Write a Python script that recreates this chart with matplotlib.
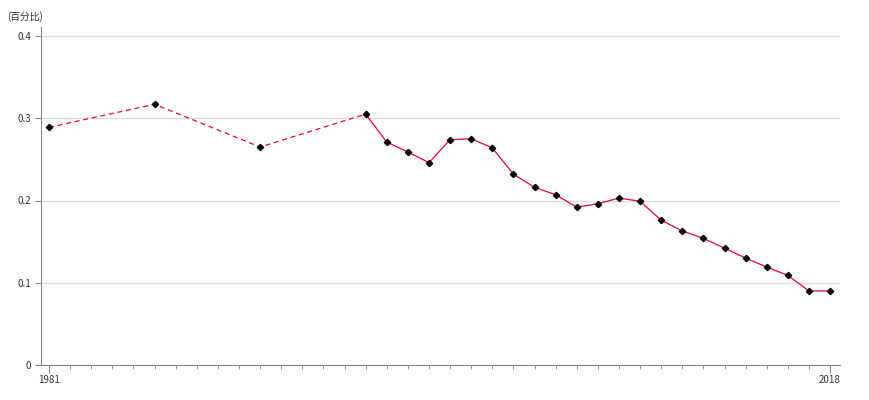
import numpy as np
import matplotlib.pyplot as plt

plt.rcParams['font.family'] = ['Noto Sans CJK SC', 'DejaVu Sans']

years_dash = [1981, 1986, 1991, 1996]
values_dash = [0.289, 0.317, 0.265, 0.305]
years = [1996, 1997, 1998, 1999, 2000, 2001, 2002, 2003, 2004, 2005, 2006, 2007,
         2008, 2009, 2010, 2011, 2012, 2013, 2014, 2015, 2016, 2017, 2018]
values = [0.305, 0.271, 0.259, 0.246, 0.274, 0.275, 0.264, 0.232, 0.216, 0.207,
          0.192, 0.196, 0.203, 0.199, 0.176, 0.163, 0.154, 0.142, 0.130, 0.119,
          0.109, 0.090, 0.090]
unit = "(百分比)"

fig = plt.figure(figsize=(8.7, 4), dpi=100)
ax = fig.add_axes([41/870, 35/400, 799/870, 338/400])

line_color = '#e8003a'
ax.plot(years_dash, values_dash, color=line_color, lw=0.9, ls=(0, (4, 3)), zorder=3)
ax.plot(years, values, color=line_color, lw=0.9, zorder=3)
ax.plot(years_dash + years[1:], values_dash + values[1:], ls='none', marker='D',
        ms=3.2, color='black', zorder=4)

ax.set_xlim(1980.62, 2018.47)
ax.set_ylim(0, 0.4 * 338 / 329)
ax.set_yticks([0, 0.1, 0.2, 0.3, 0.4])
ax.set_yticklabels(['0', '0.1', '0.2', '0.3', '0.4'])
ax.set_xticks([1981, 2018])
ax.set_xticks(np.arange(1981, 2019), minor=True)
ax.yaxis.grid(True, color='#dddddd', lw=1)
ax.set_axisbelow(True)

for s in ['top', 'right']:
    ax.spines[s].set_visible(False)
for s in ['left', 'bottom']:
    ax.spines[s].set_color('#888888')

ax.tick_params(axis='both', colors='#888888', labelcolor='#333333', labelsize=7)
ax.tick_params(axis='x', which='major', length=6, pad=1)
ax.tick_params(axis='x', which='minor', length=3, color='#888888')
ax.tick_params(axis='y', length=4, pad=3)

fig.text(7/870, 1 - 17/400, unit, fontsize=7, color='#333333', va='center')

fig.savefig('out.png', dpi=100)
